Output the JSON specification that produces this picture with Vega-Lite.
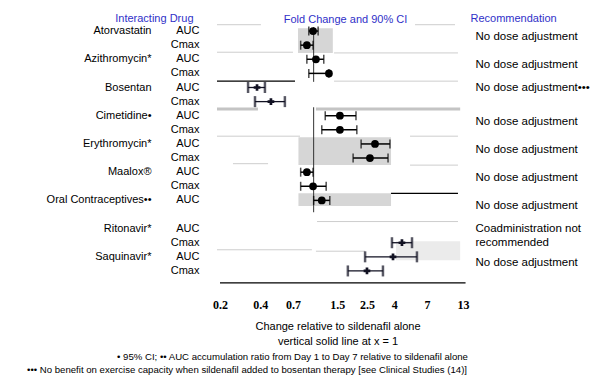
{
  "$schema": "https://vega.github.io/schema/vega-lite/v6.json",
  "padding": {"left": 27, "top": 12, "right": 0, "bottom": 0},
  "background": "#ffffff",
  "config": {
    "font": "Liberation Sans",
    "view": {"stroke": null},
    "axis": {"domain": false, "ticks": false, "grid": false, "labelFont": "Liberation Sans", "labelFontSize": 11, "labelColor": "#000000", "titleFont": "Liberation Sans", "titleFontWeight": "normal", "titleFontSize": 11, "titleColor": "#3030c8", "labelOverlap": false, "labelFlush": false},
    "title": {"font": "Liberation Sans", "fontWeight": "normal", "fontSize": 9.6, "color": "#000000"}
  },
  "datasets": {
    "rows": [
      {"row": "Atorvastatin|AUC|No dose adjustment", "est": 0.99, "lo": 0.92, "hi": 1.08},
      {"row": "Atorvastatin|Cmax|", "est": 0.89, "lo": 0.80, "hi": 0.99},
      {"row": "Azithromycin*|AUC|No dose adjustment", "est": 1.04, "lo": 0.89, "hi": 1.19},
      {"row": "Azithromycin*|Cmax|", "est": 1.30, "lo": 0.92, "hi": 1.30},
      {"row": "Bosentan|AUC|No dose adjustment•••", "est": null, "lo": null, "hi": null},
      {"row": "Bosentan|Cmax|", "est": null, "lo": null, "hi": null},
      {"row": "Cimetidine•|AUC|No dose adjustment", "est": 1.57, "lo": 1.22, "hi": 2.07},
      {"row": "Cimetidine•|Cmax|", "est": 1.57, "lo": 1.15, "hi": 2.10},
      {"row": "Erythromycin*|AUC|No dose adjustment", "est": 2.87, "lo": 2.26, "hi": 3.71},
      {"row": "Erythromycin*|Cmax|", "est": 2.63, "lo": 1.97, "hi": 3.59},
      {"row": "Maalox®|AUC|No dose adjustment", "est": 0.89, "lo": 0.80, "hi": 0.99},
      {"row": "Maalox®|Cmax|", "est": 0.99, "lo": 0.80, "hi": 1.24},
      {"row": "Oral Contraceptives••|AUC|No dose adjustment", "est": 1.15, "lo": 1.00, "hi": 1.32},
      {"row": "||", "est": null, "lo": null, "hi": null},
      {"row": "Ritonavir*|AUC|Coadministration  not", "est": null, "lo": null, "hi": null},
      {"row": "Ritonavir*|Cmax|recommended", "est": null, "lo": null, "hi": null},
      {"row": "Saquinavir*|AUC|No dose adjustment", "est": null, "lo": null, "hi": null},
      {"row": "Saquinavir*|Cmax|", "est": null, "lo": null, "hi": null}
    ],
    "printed_ci": [
      {"row": "Bosentan|AUC|No dose adjustment•••", "est": 0.378, "lo": 0.324, "hi": 0.433},
      {"row": "Bosentan|Cmax|", "est": 0.48, "lo": 0.365, "hi": 0.61},
      {"row": "Ritonavir*|Cmax|recommended", "est": 4.56, "lo": 3.84, "hi": 5.42},
      {"row": "Saquinavir*|AUC|No dose adjustment", "est": 3.91, "lo": 2.42, "hi": 5.9},
      {"row": "Saquinavir*|Cmax|", "est": 2.5, "lo": 1.8, "hi": 3.29}
    ],
    "shade": [
      {"x": 0.764, "x2": 1.39, "r1": -0.2, "r2": 1.56},
      {"x": 0.77, "x2": 3.78, "r1": 7.52, "r2": 9.5},
      {"x": 0.77, "x2": 3.78, "r1": 11.5, "r2": 12.4}
    ],
    "shade_light": [
      {"x": 4.12, "x2": 12.4, "r1": 14.9, "r2": 16.24}
    ],
    "rules_grey": [
      {"x": 0.19, "x2": 0.404, "r": -0.45},
      {"x": 5.71, "x2": 11.35, "r": -0.45},
      {"x": 0.19, "x2": 0.701, "r": 1.5},
      {"x": 1.42, "x2": 11.94, "r": 1.55},
      {"x": 1.42, "x2": 11.94, "r": 3.55},
      {"x": 0.19, "x2": 0.791, "r": 7.45},
      {"x": 5.24, "x2": 11.94, "r": 7.45},
      {"x": 0.25, "x2": 0.457, "r": 9.4},
      {"x": 5.24, "x2": 11.94, "r": 9.5},
      {"x": 1.06, "x2": 11.94, "r": 13.5},
      {"x": 0.19, "x2": 0.97, "r": 15.5},
      {"x": 1.04, "x2": 2.42, "r": 15.6}
    ],
    "rules_thick": [
      {"x": 0.19, "x2": 0.384, "r": 5.53},
      {"x": 1.04, "x2": 12.4, "r": 5.53}
    ],
    "rules_black": [
      {"x": 0.19, "x2": 0.726, "r": 3.55},
      {"x": 3.78, "x2": 11.94, "r": 11.5},
      {"x": 0.2, "x2": 13.6, "r": 17.85}
    ],
    "unity": [
      {"x": 1, "r1": -0.28, "r2": 3.6},
      {"x": 1, "r1": 5.4, "r2": 12.84}
    ]
  },
  "title": {"text": "••• No benefit on exercise capacity when sildenafil added to bosentan therapy [see Clinical Studies (14)]", "orient": "bottom", "anchor": "start", "dx": -19, "offset": 3},
  "vconcat": [
    {
      "title": {"text": "• 95% CI; •• AUC accumulation ratio from Day 1 to Day 7 relative to sildenafil alone", "orient": "bottom", "anchor": "start", "dx": 71, "offset": 6},
      "vconcat": [
        {
          "width": 265,
          "height": 254,
          "title": {"text": "Fold Change and 90% CI", "frame": "group", "anchor": "middle", "color": "#3030c8", "fontSize": 11, "dy": 17, "dx": 8},
          "layer": [
            {
              "layer": [
                {"data": {"name": "shade"}, "mark": {"type": "rect", "color": "#d6d6d6"},
                 "encoding": {
                   "x": {"field": "x", "type": "quantitative", "scale": {"type": "log", "domain": [0.1546, 14.68], "nice": false}, "title": ["Change relative to sildenafil alone", "vertical solid line at x = 1"],
                         "axis": {"domain": false, "values": [0.2, 0.4, 0.7, 1.5, 2.5, 4, 7, 13], "format": "~g", "labelFont": "Liberation Serif", "labelFontWeight": "bold", "labelFontSize": 12, "labelPadding": 21, "tickSize": 0, "titleColor": "#000000", "titlePadding": 10, "titleLineHeight": 15}},
                   "x2": {"field": "x2"},
                   "y": {"field": "r1", "type": "quantitative", "scale": {"domain": [-0.5, 17.5], "reverse": true, "nice": false, "zero": false}, "axis": null},
                   "y2": {"field": "r2"}
                 }},
                {"data": {"name": "shade_light"}, "mark": {"type": "rect", "color": "#ebebeb"},
                 "encoding": {
                   "x": {"field": "x", "type": "quantitative", "scale": {"type": "log", "domain": [0.1546, 14.68], "nice": false}},
                   "x2": {"field": "x2"},
                   "y": {"field": "r1", "type": "quantitative", "scale": {"domain": [-0.5, 17.5], "reverse": true, "nice": false, "zero": false}, "axis": null},
                   "y2": {"field": "r2"}
                 }},
                {"data": {"name": "rules_grey"}, "mark": {"type": "rule", "color": "#cdcdcd", "strokeWidth": 1},
                 "encoding": {
                   "x": {"field": "x", "type": "quantitative", "scale": {"type": "log", "domain": [0.1546, 14.68], "nice": false}},
                   "x2": {"field": "x2"},
                   "y": {"field": "r", "type": "quantitative", "scale": {"domain": [-0.5, 17.5], "reverse": true, "nice": false, "zero": false}, "axis": null}
                 }},
                {"data": {"name": "rules_thick"}, "mark": {"type": "rule", "color": "#c4c4c4", "strokeWidth": 3},
                 "encoding": {
                   "x": {"field": "x", "type": "quantitative", "scale": {"type": "log", "domain": [0.1546, 14.68], "nice": false}},
                   "x2": {"field": "x2"},
                   "y": {"field": "r", "type": "quantitative", "scale": {"domain": [-0.5, 17.5], "reverse": true, "nice": false, "zero": false}, "axis": null}
                 }},
                {"data": {"name": "rules_black"}, "mark": {"type": "rule", "color": "#000000", "strokeWidth": 1.2},
                 "encoding": {
                   "x": {"field": "x", "type": "quantitative", "scale": {"type": "log", "domain": [0.1546, 14.68], "nice": false}},
                   "x2": {"field": "x2"},
                   "y": {"field": "r", "type": "quantitative", "scale": {"domain": [-0.5, 17.5], "reverse": true, "nice": false, "zero": false}, "axis": null}
                 }},
                {"data": {"name": "unity"}, "mark": {"type": "rule", "color": "#333333", "strokeWidth": 1},
                 "encoding": {
                   "x": {"field": "x", "type": "quantitative", "scale": {"type": "log", "domain": [0.1546, 14.68], "nice": false}},
                   "y": {"field": "r1", "type": "quantitative", "scale": {"domain": [-0.5, 17.5], "reverse": true, "nice": false, "zero": false}, "axis": null},
                   "y2": {"field": "r2"}
                 }}
              ]
            },
            {
              "layer": [
                {"data": {"name": "rows"}, "mark": {"type": "text"},
                 "encoding": {
                   "text": {"value": ""},
                   "y": {"field": "row", "type": "nominal", "sort": null, "scale": {"type": "band", "paddingInner": 0, "paddingOuter": 0},
                         "axis": {"orient": "left", "labelExpr": "split(datum.value, '|')[1]", "labelPadding": 6, "title": "Interacting Drug", "titleAngle": 0, "titleAlign": "right", "titleBaseline": "alphabetic", "titleX": -12, "titleY": -3}}
                 }},
                {"data": {"name": "rows"}, "mark": {"type": "text"},
                 "encoding": {
                   "text": {"value": ""},
                   "y": {"field": "row", "type": "nominal", "sort": null, "scale": {"type": "band", "paddingInner": 0, "paddingOuter": 0},
                         "axis": {"orient": "left", "labelExpr": "split(datum.value, '|')[1] == 'AUC' ? split(datum.value, '|')[0] : ''", "labelPadding": 54, "title": null}}
                 }},
                {"data": {"name": "rows"}, "mark": {"type": "text"},
                 "encoding": {
                   "text": {"value": ""},
                   "y": {"field": "row", "type": "nominal", "sort": null, "scale": {"type": "band", "paddingInner": 0, "paddingOuter": 0},
                         "axis": {"orient": "right", "labelExpr": "split(datum.value, '|')[2]", "labelAlign": "left", "labelPadding": 5, "labelFontSize": 11.5,
                                  "labelOffset": {"condition": {"test": "indexof(datum.value, 'Bosentan') == 0 || indexof(datum.value, 'Ritonavir') == 0", "value": 0}, "value": 6},
                                  "title": "Recommendation", "titleAngle": 0, "titleAlign": "left", "titleBaseline": "alphabetic", "titleX": 0, "titleY": -3}}
                 }},
                {"data": {"name": "rows"}, "mark": {"type": "rule", "color": "#000000", "strokeWidth": 1.5},
                 "encoding": {
                   "x": {"field": "lo", "type": "quantitative", "scale": {"type": "log", "domain": [0.1546, 14.68], "nice": false}},
                   "x2": {"field": "hi"},
                   "y": {"field": "row", "type": "nominal", "sort": null, "scale": {"type": "band", "paddingInner": 0, "paddingOuter": 0}, "axis": null}
                 }},
                {"data": {"name": "rows"}, "mark": {"type": "tick", "color": "#000000", "size": 9, "thickness": 1.5},
                 "encoding": {
                   "x": {"field": "lo", "type": "quantitative", "scale": {"type": "log", "domain": [0.1546, 14.68], "nice": false}},
                   "y": {"field": "row", "type": "nominal", "sort": null, "scale": {"type": "band", "paddingInner": 0, "paddingOuter": 0}, "axis": null}
                 }},
                {"data": {"name": "rows"}, "mark": {"type": "tick", "color": "#000000", "size": 9, "thickness": 1.5},
                 "encoding": {
                   "x": {"field": "hi", "type": "quantitative", "scale": {"type": "log", "domain": [0.1546, 14.68], "nice": false}},
                   "y": {"field": "row", "type": "nominal", "sort": null, "scale": {"type": "band", "paddingInner": 0, "paddingOuter": 0}, "axis": null}
                 }},
                {"data": {"name": "rows"}, "mark": {"type": "point", "filled": true, "shape": "circle", "size": 60, "color": "#000000", "opacity": 1},
                 "encoding": {
                   "x": {"field": "est", "type": "quantitative", "scale": {"type": "log", "domain": [0.1546, 14.68], "nice": false}},
                   "y": {"field": "row", "type": "nominal", "sort": null, "scale": {"type": "band", "paddingInner": 0, "paddingOuter": 0}, "axis": null}
                 }},
                {"data": {"name": "printed_ci"}, "mark": {"type": "rule", "color": "#111122", "strokeWidth": 1.3},
                 "encoding": {
                   "x": {"field": "lo", "type": "quantitative", "scale": {"type": "log", "domain": [0.1546, 14.68], "nice": false}},
                   "x2": {"field": "hi"},
                   "y": {"field": "row", "type": "nominal", "sort": null, "scale": {"type": "band", "paddingInner": 0, "paddingOuter": 0}, "axis": null}
                 }},
                {"data": {"name": "printed_ci"}, "mark": {"type": "tick", "color": "#111122", "size": 11, "thickness": 2.5},
                 "encoding": {
                   "x": {"field": "lo", "type": "quantitative", "scale": {"type": "log", "domain": [0.1546, 14.68], "nice": false}},
                   "y": {"field": "row", "type": "nominal", "sort": null, "scale": {"type": "band", "paddingInner": 0, "paddingOuter": 0}, "axis": null}
                 }},
                {"data": {"name": "printed_ci"}, "mark": {"type": "tick", "color": "#111122", "size": 11, "thickness": 2.5},
                 "encoding": {
                   "x": {"field": "hi", "type": "quantitative", "scale": {"type": "log", "domain": [0.1546, 14.68], "nice": false}},
                   "y": {"field": "row", "type": "nominal", "sort": null, "scale": {"type": "band", "paddingInner": 0, "paddingOuter": 0}, "axis": null}
                 }},
                {"data": {"name": "printed_ci"}, "mark": {"type": "point", "filled": true, "shape": "cross", "size": 45, "color": "#111122", "opacity": 1},
                 "encoding": {
                   "x": {"field": "est", "type": "quantitative", "scale": {"type": "log", "domain": [0.1546, 14.68], "nice": false}},
                   "y": {"field": "row", "type": "nominal", "sort": null, "scale": {"type": "band", "paddingInner": 0, "paddingOuter": 0}, "axis": null}
                 }}
              ],
              "resolve": {"axis": {"y": "independent"}}
            }
          ],
          "resolve": {"scale": {"y": "independent"}, "axis": {"y": "independent"}}
        }
      ]
    }
  ]
}
